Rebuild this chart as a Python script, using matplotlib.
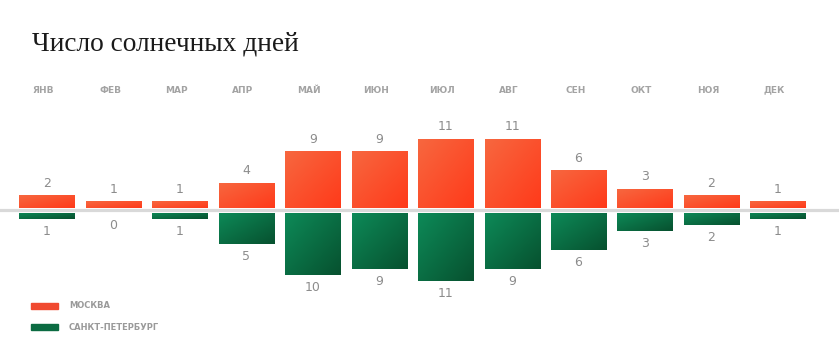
import matplotlib.pyplot as plt
import numpy as np
from matplotlib.colors import LinearSegmentedColormap
from matplotlib.patches import Rectangle

months = ["ЯНВ", "ФЕВ", "МАР", "АПР", "МАЙ", "ИЮН",
          "ИЮЛ", "АВГ", "СЕН", "ОКТ", "НОЯ", "ДЕК"]
moscow = [2, 1, 1, 4, 9, 9, 11, 11, 6, 3, 2, 1]
spb = [1, 0, 1, 5, 10, 9, 11, 9, 6, 3, 2, 1]
series_labels = ["МОСКВА", "САНКТ-ПЕТЕРБУРГ"]

W, H = 839, 352
fig = plt.figure(figsize=(W / 100, H / 100), dpi=100)
ax = fig.add_axes([0, 0, 1, 1])
ax.axis("off")

red_cmap = LinearSegmentedColormap.from_list("r", ["#f7673f", "#ff3a1a"])
green_cmap = LinearSegmentedColormap.from_list("g", ["#0d8a58", "#07512f"])

gap = 0.4
width = 0.83
grad = np.add.outer(np.linspace(0, 1, 50), np.linspace(0, 1, 50)) / 2


def gradient_bar(x, bottom, height, cmap):
    bars = ax.bar(x, height, width=width, bottom=bottom, color="none", linewidth=0)
    im = ax.imshow(grad[::-1], cmap=cmap, aspect="auto",
                   extent=(x - width / 2, x + width / 2, bottom, bottom + height),
                   origin="lower", zorder=2)
    im.set_clip_path(bars[0])


for i, (m, s) in enumerate(zip(moscow, spb)):
    if m > 0:
        gradient_bar(i, gap, m, red_cmap)
    ax.text(i, gap + m + 1.9, str(m), ha="center", va="center",
            fontsize=9, color="#8c8c8c")
    if s > 0:
        gradient_bar(i, -gap - s, s, green_cmap)
    ax.text(i, -gap - s - 2.0, str(s), ha="center", va="center",
            fontsize=9, color="#8c8c8c")
    ax.text(i - 0.05, 19.2, months[i], ha="center", va="center",
            fontsize=6.5, fontweight="bold", color="#a3a3a3")

ax.axhline(0, color="#d9d9d9", linewidth=2.3, zorder=1)

ax.set_xlim(-0.707, 11.92)
ax.set_ylim(-22.7, 33.6)

fig.text(32 / W, 1 - 44 / H, "Число солнечных дней", fontsize=19.7,
         family="Liberation Serif", color="#1a1a1a", va="center", ha="left")

for k, (lab, col) in enumerate(zip(series_labels, ["#f04a30", "#0b6b42"])):
    yc = 1 - (306 + 21 * k) / H
    fig.patches.append(Rectangle((31 / W, yc - 3 / H), 27 / W, 6 / H,
                                 transform=fig.transFigure, color=col))
    fig.text(69 / W, yc, lab, fontsize=6, fontweight="bold",
             color="#9a9a9a", va="center", ha="left")

fig.savefig("out.png", dpi=100, facecolor="white")
